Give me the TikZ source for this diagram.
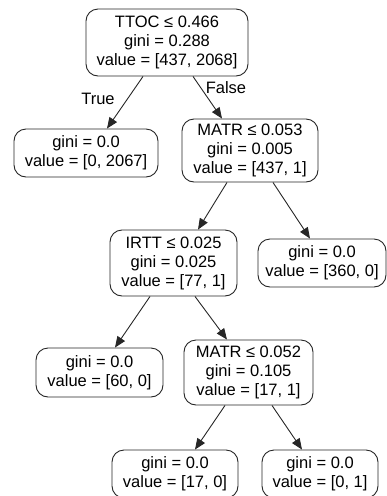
\documentclass[tikz,border=0pt]{standalone}
\usepackage{fontspec}
\setmainfont{Liberation Sans}
\usetikzlibrary{arrows.meta}
\begin{document}
\begin{tikzpicture}[x=1pt,y=-1pt,
  treenode/.style={draw=black!85, line width=0.9pt, rounded corners=12pt,
    align=center, inner sep=0pt, font=\fontsize{16.5}{19}\selectfont},
  edgelabel/.style={font=\fontsize{16.5}{19}\selectfont},
  link/.style={draw=black!85, line width=0.9pt, -{Triangle[length=11pt,width=9pt]}}]
\useasboundingbox (0,0) rectangle (387,496);

% nodes of the decision tree
\node[treenode, minimum width=162pt, minimum height=67pt] (root) at (167,42.5)
  {TTOC ≤ 0.466\\gini = 0.288\\value = [437, 2068]};
\node[treenode, minimum width=144pt, minimum height=48pt] (l1) at (86,153)
  {gini = 0.0\\value = [0, 2067]};
\node[treenode, minimum width=136pt, minimum height=63pt] (m1) at (250,150.5)
  {MATR ≤ 0.053\\gini = 0.005\\value = [437, 1]};
\node[treenode, minimum width=127pt, minimum height=66pt] (irtt) at (173.5,263)
  {IRTT ≤ 0.025\\gini = 0.025\\value = [77, 1]};
\node[treenode, minimum width=128pt, minimum height=48pt] (l360) at (322,263)
  {gini = 0.0\\value = [360, 0]};
\node[treenode, minimum width=127pt, minimum height=49pt] (l60) at (99.5,372.5)
  {gini = 0.0\\value = [60, 0]};
\node[treenode, minimum width=129pt, minimum height=65pt] (m2) at (248.5,372.5)
  {MATR ≤ 0.052\\gini = 0.105\\value = [17, 1]};
\node[treenode, minimum width=126pt, minimum height=48pt] (l17) at (175,474)
  {gini = 0.0\\value = [17, 0]};
\node[treenode, minimum width=116pt, minimum height=48pt] (l01) at (320,474)
  {gini = 0.0\\value = [0, 1]};

% connectors
\draw[link] ([xshift=-24pt]root.south) -- ([xshift=21pt]l1.north);
\draw[link] ([xshift=26pt]root.south) -- ([xshift=-28pt]m1.north);
\draw[link] ([xshift=-23pt]m1.south) -- ([xshift=24.5pt]irtt.north);
\draw[link] ([xshift=23pt]m1.south) -- ([xshift=-12pt]l360.north);
\draw[link] ([xshift=-23.5pt]irtt.south) -- ([xshift=15.5pt]l60.north);
\draw[link] ([xshift=21.5pt]irtt.south) -- ([xshift=-21.5pt]m2.north);
\draw[link] ([xshift=-23.5pt]m2.south) -- ([xshift=20pt]l17.north);
\draw[link] ([xshift=23.5pt]m2.south) -- ([xshift=-18pt]l01.north);

% branch labels
\node[edgelabel] (true) at (98,99) {True};
\node[edgelabel] (false) at (226,88) {False};
\end{tikzpicture}
\end{document}
